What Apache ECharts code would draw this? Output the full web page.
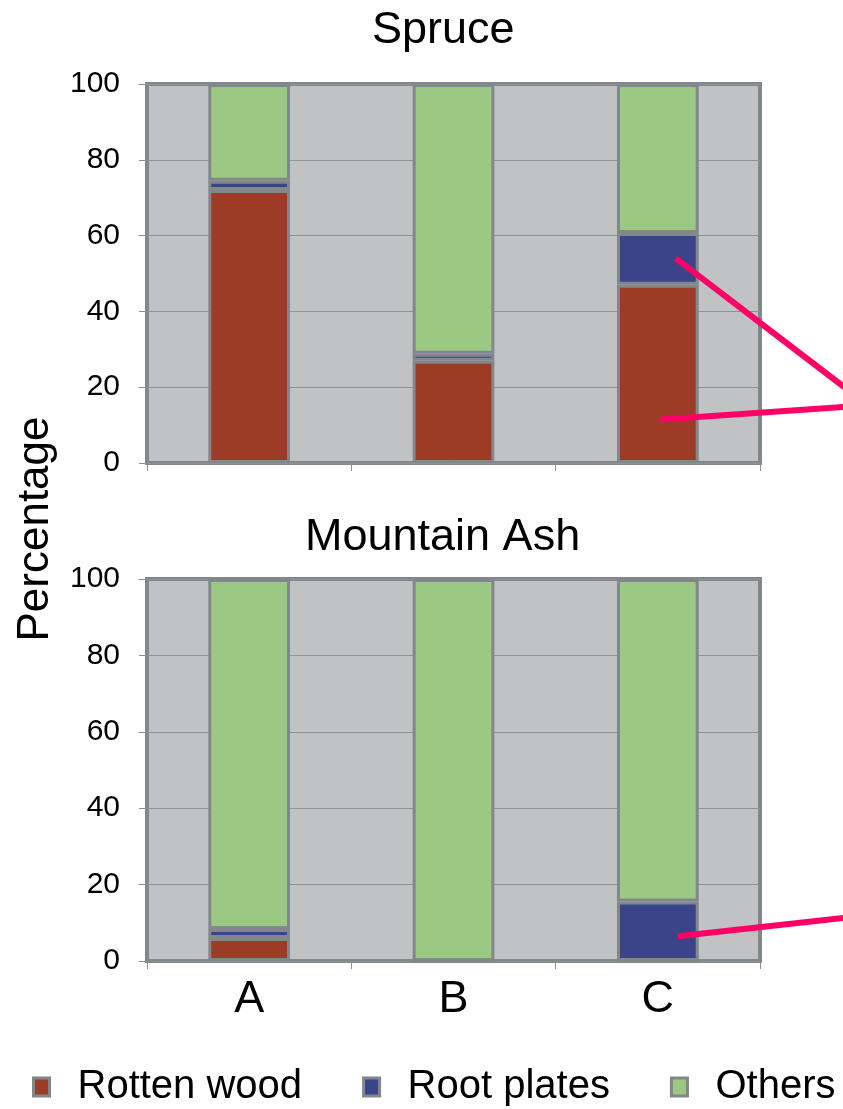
<!DOCTYPE html>
<html>
<head>
<meta charset="utf-8">
<script src="https://cdn.jsdelivr.net/npm/echarts@6/dist/echarts.min.js"></script>
<style>
  html, body { margin: 0; padding: 0; background: #fff; }
  #chart { width: 843px; height: 1109px; }
</style>
</head>
<body>
<div id="chart"></div>
<script>
// data (percentages)
const sites = ["A", "B", "C"];
const seriesNames = ["Rotten wood", "Root plates", "Others"];
const spruceRotten = [72, 27, 47];
const spruceRoot = [2.5, 1.8, 13.7];
const spruceOthers = [25.5, 71.2, 39.3];
const ashRotten = [6, 0, 0];
const ashRoot = [2.4, 0, 15.6];
const ashOthers = [91.6, 100, 84.4];

const colors = ["#9d3b27", "#3b4389", "#9bc983"];
const borderGray = "#82878b";
const font = "Liberation Sans, Arial, sans-serif";

function yAxis(idx) {
  return {
    type: "value",
    gridIndex: idx,
    min: 0,
    max: 100,
    interval: 20,
    axisLine: { show: false },
    axisTick: { show: true, length: 8, lineStyle: { color: "#8e9195", width: 1 } },
    axisLabel: { fontSize: 30, color: "#000", fontFamily: font, margin: 27 },
    splitLine: { show: true, lineStyle: { color: "#8e9195", width: 1 } },
  };
}

function xAxis(idx, showLabel) {
  return {
    type: "category",
    gridIndex: idx,
    data: sites,
    axisLine: { show: false },
    axisTick: { show: true, length: 8, lineStyle: { color: "#8e9195", width: 1 } },
    axisLabel: { show: showLabel, fontSize: 45, color: "#000", fontFamily: font, margin: 16 },
  };
}

function bar(name, data, idx, color) {
  return {
    name: name,
    type: "bar",
    stack: "s" + idx,
    xAxisIndex: idx,
    yAxisIndex: idx,
    barWidth: "40%",
    data: data,
    itemStyle: { color: color, borderColor: borderGray, borderWidth: 3 },
  };
}

const chart = echarts.init(document.getElementById("chart"));
const option = {
  animation: false,
  title: [
    { text: "Spruce", left: 372, top: 8, padding: 0,
      textStyle: { fontSize: 45, fontWeight: "normal", color: "#000", fontFamily: font } },
    { text: "Mountain Ash", left: 305, top: 515, padding: 0,
      textStyle: { fontSize: 45, fontWeight: "normal", color: "#000", fontFamily: font } },
  ],
  grid: [
    { left: 147, top: 84, width: 613, height: 379, show: true,
      backgroundColor: "#c1c2c4", borderColor: borderGray, borderWidth: 4 },
    { left: 147, top: 579, width: 613, height: 382, show: true,
      backgroundColor: "#c1c2c4", borderColor: borderGray, borderWidth: 4 },
  ],
  xAxis: [xAxis(0, false), xAxis(1, true)],
  yAxis: [yAxis(0), yAxis(1)],
  legend: {
    data: seriesNames,
    left: 27,
    top: 1062,
    icon: "rect",
    itemWidth: 16,
    itemHeight: 18,
    itemGap: 60,
    itemStyle: { borderColor: borderGray, borderWidth: 3 },
    textStyle: { fontSize: 40, color: "#000", fontFamily: font, padding: [0, 0, 0, 23] },
  },
  series: [
    bar(seriesNames[0], spruceRotten, 0, colors[0]),
    bar(seriesNames[1], spruceRoot, 0, colors[1]),
    bar(seriesNames[2], spruceOthers, 0, colors[2]),
    bar(seriesNames[0], ashRotten, 1, colors[0]),
    bar(seriesNames[1], ashRoot, 1, colors[1]),
    bar(seriesNames[2], ashOthers, 1, colors[2]),
  ],
};
chart.setOption(option);

// pink pointer lines, starting inside the C bars
const p1 = chart.convertToPixel({ gridIndex: 0 }, ["C", 54]);
const p2 = chart.convertToPixel({ gridIndex: 0 }, ["C", 11.5]);
const p3 = chart.convertToPixel({ gridIndex: 1 }, ["C", 6.5]);
const pink = { stroke: "#ff0066", lineWidth: 6 };
chart.setOption({
  graphic: [
    { type: "text", x: 36, y: 529, rotation: Math.PI / 2,
      style: { text: "Percentage", fontSize: 44, fontFamily: font, fill: "#000",
               align: "center", verticalAlign: "middle" } },
    { type: "line", z: 100, shape: { x1: p1[0] + 18, y1: p1[1], x2: 852, y2: 393 }, style: pink },
    { type: "line", z: 100, shape: { x1: p2[0] + 3, y1: p2[1], x2: 852, y2: 406.5 }, style: pink },
    { type: "line", z: 100, shape: { x1: p3[0] + 20, y1: p3[1], x2: 852, y2: 917 }, style: pink },
  ],
});
</script>
</body>
</html>
